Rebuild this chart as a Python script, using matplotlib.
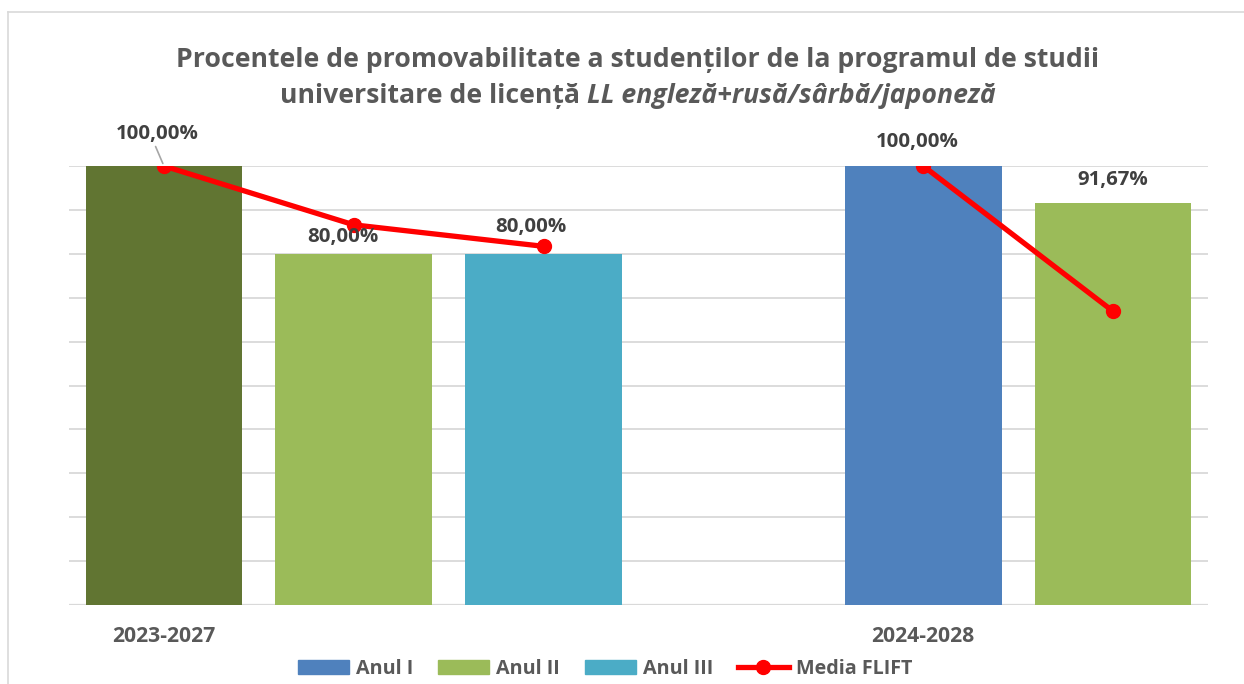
import numpy as np
import matplotlib.pyplot as plt
from matplotlib.patches import Patch
from matplotlib.lines import Line2D

plt.rcParams['font.family'] = ['Open Sans', 'DejaVu Sans']

# date
slots = ["2023-2027", "", "", "", "2024-2028", ""]
bar_values = [1.0, 0.80, 0.80, np.nan, 1.0, 0.9167]
bar_series = ["Anul I", "Anul II", "Anul III", None, "Anul I", "Anul II"]
media_flift = [1.0, 0.866, 0.817, np.nan, 1.0, 0.669]
bar_labels = ["100,00%", "80,00%", "80,00%", "", "100,00%", "91,67%"]

series_names = ["Anul I", "Anul II", "Anul III"]
series_colors = {"Anul I": "#4F81BD", "Anul II": "#9BBB59", "Anul III": "#4BACC6"}
first_bar_color = "#617532"

txt = "#595959"
lab = "#404040"

fig = plt.figure(figsize=(12.44, 6.84), dpi=100)
ax = fig.add_axes([69/1244, 1-605/684, (1208-69)/1244, (605-166)/684])

x = np.arange(len(slots))
colors = [series_colors[s] if s else "white" for s in bar_series]
colors[0] = first_bar_color
vals = np.nan_to_num(bar_values)
ax.bar(x, vals, width=0.825, color=colors, zorder=2)

# linia Media FLIFT (intrerupta la slotul gol)
m = np.array(media_flift)
ax.plot(x, m, color="#FF0000", lw=3.8, marker="o", ms=10, zorder=3)

ax.set_xlim(-0.5, len(slots) - 0.5)
ax.set_ylim(0, 1.0)
ax.set_yticks(np.arange(0, 1.01, 0.1))
ax.yaxis.grid(True, color="#D9D9D9", lw=1.3, zorder=0)
ax.tick_params(left=False, bottom=False, labelleft=False, labelbottom=False)
for s in ax.spines.values():
    s.set_visible(False)
ax.axhline(0, color="#D9D9D9", lw=1.6, zorder=1)

# etichete categorii
for i, s in enumerate(slots):
    if s:
        ax.annotate(s, (i, 0), xytext=(0, -22.5), textcoords="offset points",
                    ha="center", va="center", fontsize=15.2, fontweight="bold",
                    color=txt)

# etichete valori (pozitii mutate manual ca in original)
offsets = [(-5, 23), (-8, 12), (-9, 19), (0, 0), (-4, 17.5), (0, 16.5)]
for i, (v, l) in enumerate(zip(bar_values, bar_labels)):
    if not l:
        continue
    ax.annotate(l, (i, v), xytext=offsets[i], textcoords="offset points",
                ha="center", va="center", fontsize=14.7, fontweight="bold",
                color=lab, zorder=5)
# linie de legatura pentru prima eticheta
ax.annotate("", (0, bar_values[0]), xytext=(-6, 14), textcoords="offset points",
            arrowprops=dict(arrowstyle="-", color="#A6A6A6", lw=1.2,
                            shrinkA=0, shrinkB=2))

# titlu
fs = 19.2
fig.text(638/1244, 1-60/684,
         "Procentele de promovabilitate a studenților de la programul de studii",
         ha="center", va="center", fontsize=fs, fontweight="bold", color=txt)
y2 = 1-96/684
t1 = fig.text(0, y2, "universitare de licență", ha="left", va="center",
              fontsize=fs, fontweight="bold", color=txt)
t2 = fig.text(0, y2, "LL engleză+rusă/sârbă/japoneză", ha="left", va="center",
              fontsize=fs, fontweight="bold", fontstyle="italic", color=txt)
r = fig.canvas.get_renderer()
w1 = t1.get_window_extent(r).width
w2 = t2.get_window_extent(r).width
gap = 7
start = 638 - (w1 + gap + w2) / 2
t1.set_x(start/1244)
t2.set_x((start + w1 + gap)/1244)

# legenda
handles = [Patch(color=series_colors[n]) for n in series_names]
handles.append(Line2D([], [], color="#FF0000", lw=3.8, marker="o", ms=10))
leg = fig.legend(handles, series_names + ["Media FLIFT"], loc="center",
                 bbox_to_anchor=(605/1244, 1-669/684), ncol=4, frameon=False,
                 prop=dict(size=14.2, weight="bold"), handlelength=2.6,
                 handleheight=0.75, handletextpad=0.35, columnspacing=1.25)
for t in leg.get_texts():
    t.set_color(txt)

# chenar
fig.add_artist(Line2D([8/1244, 8/1244], [0, 1-12/684], color="#D9D9D9", lw=1.2))
fig.add_artist(Line2D([8/1244, 1], [1-12/684, 1-12/684], color="#D9D9D9", lw=1.2))

fig.savefig("out.png", dpi=100)
